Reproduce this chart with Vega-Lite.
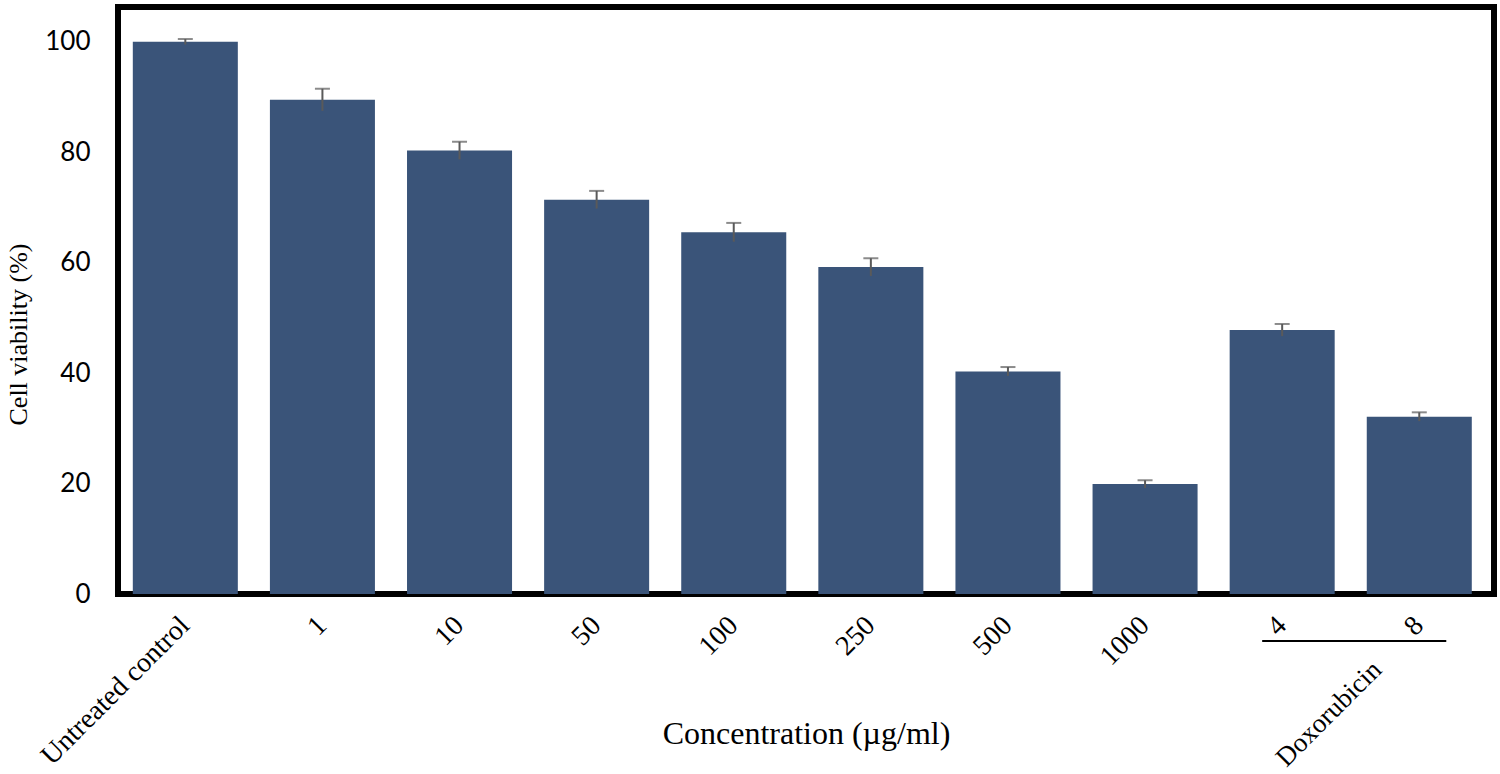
{
  "$schema": "https://vega.github.io/schema/vega-lite/v6.json",
  "width": 1376,
  "height": 587,
  "autosize": "none",
  "padding": {"left": 118, "top": 7, "right": 6, "bottom": 180},
  "background": "white",
  "data": {
    "values": [
      {"conc": "Untreated control", "viability": 100.0, "sd": 0.5},
      {"conc": "1", "viability": 89.5, "sd": 2.0},
      {"conc": "10", "viability": 80.3, "sd": 1.6},
      {"conc": "50", "viability": 71.4, "sd": 1.6},
      {"conc": "100", "viability": 65.5, "sd": 1.7},
      {"conc": "250", "viability": 59.2, "sd": 1.6},
      {"conc": "500", "viability": 40.3, "sd": 0.8},
      {"conc": "1000", "viability": 19.9, "sd": 0.7},
      {"conc": "4", "viability": 47.8, "sd": 1.1},
      {"conc": "8", "viability": 32.1, "sd": 0.8}
    ]
  },
  "encoding": {
    "x": {
      "field": "conc",
      "type": "nominal",
      "sort": null,
      "scale": {"paddingInner": 0.234, "paddingOuter": 0.135, "align": 0.4},
      "axis": {
        "title": "Concentration (µg/ml)",
        "titleFont": "Liberation Serif",
        "titleFontSize": 32,
        "titleFontWeight": "normal",
        "titleColor": "black",
        "titleY": 149,
        "titleBaseline": "alphabetic",
        "labelAngle": -45,
        "labelAlign": "right",
        "labelBaseline": "middle",
        "labelFont": "Liberation Serif",
        "labelFontSize": 28,
        "labelColor": "black",
        "labelPadding": 27,
        "labelLimit": 0,
        "ticks": false,
        "domain": false
      }
    }
  },
  "layer": [
    {
      "mark": {"type": "bar", "color": "#3A5479"},
      "encoding": {
        "y": {
          "field": "viability",
          "type": "quantitative",
          "scale": {"domain": [0, 106.3], "nice": false},
          "axis": {
            "title": "Cell viability (%)",
            "titleFont": "Liberation Serif",
            "titleFontSize": 26,
            "titleFontWeight": "normal",
            "titleColor": "black",
            "titleAngle": -90,
            "titleX": -100,
            "titleY": 327,
            "titleAlign": "center",
            "titleBaseline": "middle",
            "values": [0, 20, 40, 60, 80, 100],
            "labelFont": "Lato",
            "labelFontSize": 26,
            "labelColor": "black",
            "labelPadding": 28,
            "ticks": false,
            "domain": false,
            "grid": false
          }
        }
      }
    },
    {
      "transform": [
        {"calculate": "datum.viability - datum.sd", "as": "lo"},
        {"calculate": "datum.viability + datum.sd", "as": "hi"}
      ],
      "mark": {"type": "rule", "color": "#5a5a5a", "strokeWidth": 2},
      "encoding": {
        "y": {"field": "lo", "type": "quantitative"},
        "y2": {"field": "hi"}
      }
    },
    {
      "transform": [
        {"calculate": "datum.viability + datum.sd", "as": "hi"}
      ],
      "mark": {"type": "tick", "color": "#5a5a5a", "size": 15, "thickness": 2},
      "encoding": {
        "y": {"field": "hi", "type": "quantitative"}
      }
    },
    {
      "data": {"values": [{"group": "Doxorubicin", "from": "4", "to": "8"}]},
      "mark": {"type": "rule", "color": "black", "strokeWidth": 2, "xOffset": -20, "x2Offset": 27, "clip": false},
      "encoding": {
        "x": {"field": "from", "type": "nominal"},
        "x2": {"field": "to"},
        "y": {"datum": -8.5, "type": "quantitative"}
      }
    },
    {
      "data": {"values": [{"group": "Doxorubicin", "from": "4", "to": "8"}]},
      "mark": {
        "type": "text",
        "angle": -45,
        "align": "right",
        "baseline": "middle",
        "font": "Liberation Serif",
        "fontSize": 27,
        "color": "black",
        "xOffset": -42,
        "clip": false
      },
      "encoding": {
        "x": {"field": "to", "type": "nominal"},
        "y": {"datum": -13, "type": "quantitative"},
        "text": {"field": "group"}
      }
    }
  ],
  "config": {
    "view": {"stroke": "black", "strokeWidth": 6}
  }
}
